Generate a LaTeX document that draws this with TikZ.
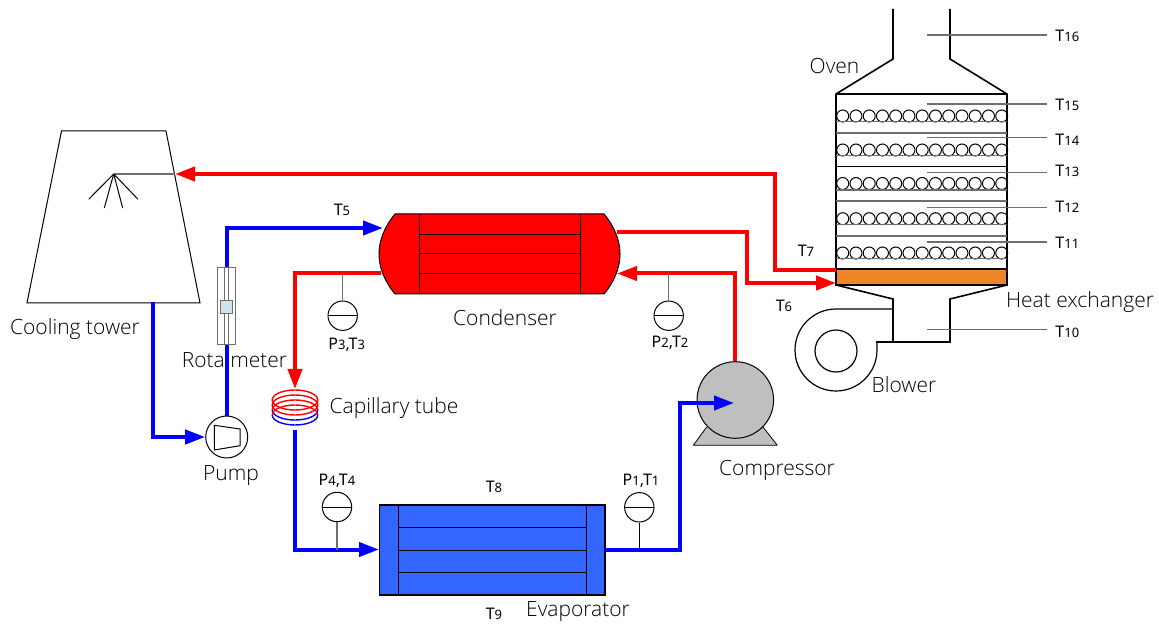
\documentclass[tikz,border=0pt]{standalone}
\usepackage{fontspec}
\setmainfont{Open Sans Light}
\newfontfamily\tfont{Noto Sans}
\usepackage{tikz}
\usetikzlibrary{arrows.meta}
\definecolor{cndc}{RGB}{255,0,0}
\definecolor{pipebc}{RGB}{0,0,255}
\definecolor{evapc}{RGB}{51,102,255}
\definecolor{hxc}{RGB}{240,133,40}
\definecolor{compc}{RGB}{191,191,191}
\definecolor{floatc}{RGB}{205,228,234}
\definecolor{linec}{RGB}{110,110,110}
\newcommand{\tsub}[2]{#1{\fontsize{6.5pt}{7pt}\selectfont #2}}
\tikzset{
  pipered/.style={cndc, line width=2pt, -{Triangle[length=10pt,width=7pt]}},
  pipeblue/.style={pipebc, line width=2pt, -{Triangle[length=10pt,width=7pt]}},
  gauge/.style={circle, draw, fill=white, line width=0.5pt, inner sep=0pt, minimum size=14.7pt,
    path picture={\draw (path picture bounding box.west) -- (path picture bounding box.east);}},
  stem/.style={linec, line width=0.6pt},
  lab/.style={inner sep=0pt, font=\fontsize{10.5pt}{12pt}\selectfont},
  tlab/.style={inner sep=0pt, font=\tfont\fontsize{8pt}{9pt}\selectfont},
}
\begin{document}
\begin{tikzpicture}[x=0.5pt, y=-0.5pt]
  \useasboundingbox (0,0) rectangle (1159,624);
  % Cooling tower
  \draw[line width=0.5pt] (61.5,131) -- (166,131) -- (200,303) -- (27,303) -- cycle;
  \coordinate (spray) at (113.7,174);
  \coordinate (sprayin) at (175,174);
  \coordinate (towerout) at (153,302.5);
  \draw[linec, line width=0.7pt] (spray) -- (sprayin);
  \foreach \x/\y in {88.7/199.3,104.3/208,122.7/208,138/199.3}
    \draw[line width=0.5pt] (spray) -- (\x,\y);
  % Oven
  \draw[line width=0.8pt] (893,9) -- (893,59) -- (836,94) -- (836,285) -- (893,299) -- (893,342)
    (950,9) -- (950,59) -- (1007,94) -- (1007,285) -- (950,299) -- (950,342) -- (876,342)
    (836,94) -- (1007,94);
  \draw[fill=hxc, line width=0.7pt] (836,269) rectangle (1007,285);
  \coordinate (hxin) at (836,283);
  \coordinate (hxout) at (836,270);
  \foreach \y in {116,150,183.5,218.7,253}
    \foreach \i in {0,...,12}
      \draw[line width=0.5pt] (842.7+13.25*\i,\y) circle[radius=6];
  \foreach \y in {121.5,133,155.7,190,201,224.7,236,258.7}
    \draw[linec, line width=0.7pt] (836,\y) -- (1007,\y);
  \draw[line width=0.5pt] (836,167) -- (1007,167);
  % Blower
  \draw[line width=0.6pt] (893,309) -- (836,309) arc[start angle=270, end angle=0, radius=41] -- (877,342);
  \draw[line width=0.6pt] (836,351) circle[radius=21];
  % Sensors on the oven
  \foreach \y/\ly/\n in {35/36/16,104/105/15,137.7/140/14,172.7/171/13,207.3/207/12,242/243/11,329.7/332/10} {
    \coordinate (s\n) at (926.7,\y);
    \node[tlab, anchor=west] (t\n) at (1055,\ly) {\tsub{T}{\n}};
    \draw[stem, shorten >=4pt] (s\n) -- (t\n.west |- s\n);
  }
  % Condenser
  \draw[fill=cndc, line width=0.5pt] (395,214) -- (604,214) .. controls (614,226) and (620,240) .. (620,254)
    .. controls (620,268) and (614,282) .. (604,294) -- (395,294)
    .. controls (385,282) and (379,268) .. (379,254) .. controls (379,240) and (385,226) .. (395,214) -- cycle;
  \draw[line width=0.5pt] (419,214) -- (419,294) (580,214) -- (580,294);
  \foreach \y in {234.3,254,274} \draw[line width=0.5pt] (419,\y) -- (580,\y);
  \coordinate (cndwater) at (383,228);
  \coordinate (cndleft) at (381,273);
  \coordinate (cndright) at (617,232);
  \coordinate (cndin) at (617,273.5);
  % Evaporator
  \draw[fill=evapc, line width=0.6pt] (379.3,505) rectangle (605,595);
  \draw[line width=0.5pt] (398.3,505) -- (398.3,595) (586,505) -- (586,595);
  \foreach \y in {527.7,550.3,572.7} \draw[line width=0.5pt] (398.3,\y) -- (586,\y);
  \coordinate (evapin) at (379,549.5);
  \coordinate (evapout) at (605,549.5);
  % Compressor
  \fill[compc] (693.3,445.3) -- (777.3,445.3) -- (763,427) -- (706.7,427) -- cycle;
  \draw[line width=0.4pt] (693.3,445.3) -- (777.3,445.3) (693.3,445.3) -- (706.7,427) (777.3,445.3) -- (763,427);
  \node[circle, draw, fill=compc, line width=0.5pt, inner sep=0pt, minimum size=38.3pt] (comp) at (735.3,400) {};
  \coordinate (compin) at (734,403);
  % Pump
  \node[circle, draw, line width=0.5pt, inner sep=0pt, minimum size=21pt] (pump) at (226.7,437) {};
  \draw[line width=0.5pt] (214.3,425.3) -- (240,429) -- (240,445.7) -- (214.3,450) -- cycle;
  % Capillary tube
  \coordinate (captop) at (295,389);
  \coordinate (capbot) at (295,430);
  \foreach \y in {410,415}
    \draw[pipebc, line width=0.7pt] (272.2,\y) arc[start angle=180, end angle=0, x radius=22.8, y radius=10];
  \foreach \y in {410,415}
    \draw[cndc, line width=0.7pt] (272.2,\y) arc[start angle=180, end angle=360, x radius=22.8, y radius=10];
  \foreach \y in {400,405} \draw[cndc, line width=0.7pt] (295,\y) ellipse[x radius=22.8, y radius=10];
  % Pipes
  \draw[pipered] (hxout) -- (775,270) -- (775,174) -- (sprayin);
  \draw[pipered] (cndright) -- (747,232) -- (747,283) -- (hxin);
  \draw[pipered] (comp.north) |- (cndin);
  \draw[pipered] (cndleft) -| (captop);
  \draw[pipeblue] (towerout) |- (pump.west);
  \draw[pipeblue] (pump.north) |- (cndwater);
  \draw[pipeblue] (capbot) |- (evapin);
  \draw[pipeblue] (evapout) -| (680,403) -- (compin);
  % Rotameter
  \node[draw=linec, fill=white, line width=0.5pt, inner sep=0pt, minimum width=8.8pt, minimum height=38.6pt] (rota) at (226.5,306.3) {};
  \draw[linec, line width=0.5pt] (224.7,267.7) -- (224.7,345) (228.3,267.7) -- (228.3,345);
  \node[draw=linec, fill=floatc, line width=0.5pt, inner sep=0pt, minimum width=6pt, minimum height=6.2pt] (rotafloat) at (226.3,307) {};
  % Gauges
  \node[gauge] (g3) at (342.7,315.7) {};
  \node[gauge] (g2) at (668.7,315.7) {};
  \node[gauge] (g4) at (337,507) {};
  \node[gauge] (g1) at (639.3,507.3) {};
  \draw[stem] (g3.north) -- (g3.north |- cndleft);
  \draw[stem] (g2.north) -- (g2.north |- cndin);
  \draw[stem] (g4.south) -- (g4.south |- evapin);
  \draw[line width=0.5pt] (g1.south) -- (g1.south |- evapout);
  % Labels
  \node[tlab] (p3) at (346.7,345) {\tsub{P}{3},\tsub{T}{3}};
  \node[tlab] (p2) at (670,343) {\tsub{P}{2},\tsub{T}{2}};
  \node[tlab] (p4) at (337,481) {\tsub{P}{4},\tsub{T}{4}};
  \node[tlab] (p1) at (641,481) {\tsub{P}{1},\tsub{T}{1}};
  \node[tlab] (t5) at (342,210) {\tsub{T}{5}};
  \node[tlab] (t6) at (784,306) {\tsub{T}{6}};
  \node[tlab] (t7) at (806,251) {\tsub{T}{7}};
  \node[tlab] (t8) at (494,487) {\tsub{T}{8}};
  \node[tlab] (t9) at (494,614) {\tsub{T}{9}};
  \node[lab] (oven) at (834.5,66) {Oven};
  \node[lab] (hxlab) at (1080,302) {Heat exchanger};
  \node[lab] (blowerlab) at (904,385) {Blower};
  \node[lab] (complab) at (777,470) {Compressor};
  \node[lab] (caplab) at (394,408) {Capillary tube};
  \node[lab] (pumplab) at (231,476) {Pump};
  \node[lab] (rotalab) at (234.5,360) {Rota meter};
  \node[lab] (towerlab) at (75,329) {Cooling tower};
  \node[lab] (cndlab) at (505,318) {Condenser};
  \node[lab] (evaplab) at (578,612) {Evaporator};
\end{tikzpicture}
\end{document}
